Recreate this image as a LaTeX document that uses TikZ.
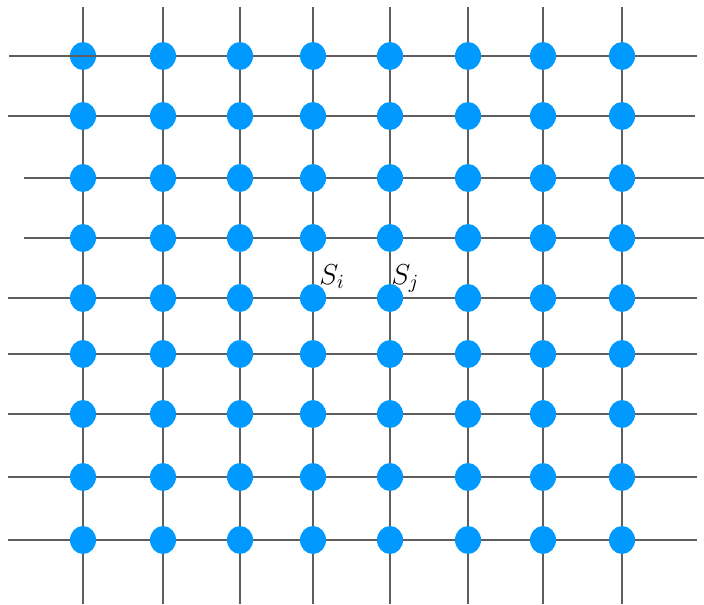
\documentclass[tikz,border=0pt]{standalone}
\definecolor{dotblue}{HTML}{0099FF}
\definecolor{gridgray}{HTML}{5E5E5E}
\tikzset{
  gridline/.style={draw=gridgray, line width=1pt},
  dot/.style={ellipse, fill=dotblue, draw=none, inner sep=0pt, minimum width=13pt, minimum height=14pt},
  lbl/.style={inner sep=0pt, anchor=base west, font=\Large}
}
\usetikzlibrary{shapes.geometric}
\begin{document}
\begin{tikzpicture}[x=0.5pt,y=-0.5pt]
\useasboundingbox (0,0) rectangle (704,604);
\def\colsx{83,163,240,313,390,468,543,622}
% vertical lines
\foreach \x [count=\c] in \colsx {
  \coordinate (vt\c) at (\x,7);
  \coordinate (vb\c) at (\x,604);
  \draw[gridline] (vt\c) -- (vb\c);
}
% horizontal lines: y / left / right
\foreach \y/\l/\r [count=\k] in {56/9/697,116/8/695,178/24/704,238/24/704,298/8/697,354/8/697,414/8/697,477/8/697,540/8/697} {
  \coordinate (hl\k) at (\l,\y);
  \coordinate (hr\k) at (\r,\y);
  \draw[gridline] (hl\k) -- (hr\k);
}
% dots
\foreach \y [count=\r] in {56,116,178,238,298,354,414,477,540} {
  \foreach \x [count=\c] in \colsx {
    \node[dot] (n-\r-\c) at (\x,\y) {};
  }
}
% line drawn over the first dot
\draw[gridline] (n-1-1.west) -- (n-1-1.east);
% labels
\node[lbl] (si) at (319,284) {$S_i$};
\node[lbl] (sj) at (391,284) {$S_j$};
\end{tikzpicture}
\end{document}
